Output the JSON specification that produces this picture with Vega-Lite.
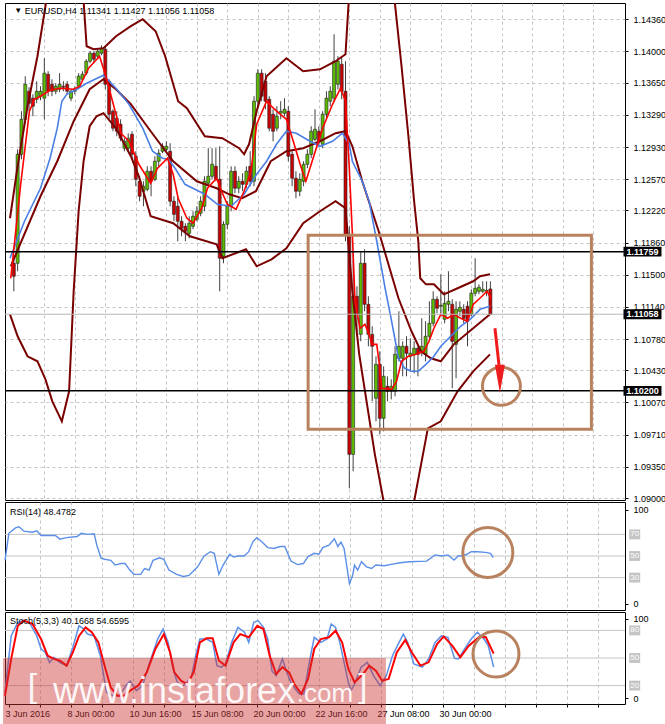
{
"$schema":"https://vega.github.io/schema/vega-lite/v6.json",
"background":"white",
"padding":{"left":0,"top":2,"right":0,"bottom":0},
"bounds":"flush",
"spacing":2,
"config":{"font":"Liberation Sans","view":{"stroke":"#000","strokeWidth":1},
"axis":{"labelFont":"Liberation Sans","labelFontSize":9,"labelColor":"#000","tickColor":"#000","tickSize":3,"domain":false,"gridColor":"#c4c4c4","gridDash":[3,3],"labelOverlap":false,"labelFlush":false,"labelBound":false},
"text":{"font":"Liberation Sans"}},
"datasets":{
"candles":[
{"i":0,"o":1.11629,"h":1.11707,"l":1.11315,"c":1.11483},
{"i":1,"o":1.11629,"h":1.12905,"l":1.11539,"c":1.12849},
{"i":2,"o":1.12849,"h":1.13331,"l":1.12793,"c":1.13241},
{"i":3,"o":1.13241,"h":1.13723,"l":1.13197,"c":1.13633},
{"i":4,"o":1.13555,"h":1.136,"l":1.13331,"c":1.13421},
{"i":5,"o":1.13477,"h":1.13521,"l":1.13275,"c":1.13387},
{"i":6,"o":1.13465,"h":1.13667,"l":1.13421,"c":1.13555},
{"i":7,"o":1.13499,"h":1.13611,"l":1.13454,"c":1.13555},
{"i":8,"o":1.13477,"h":1.13925,"l":1.13241,"c":1.13757},
{"i":9,"o":1.13745,"h":1.13779,"l":1.13499,"c":1.13555},
{"i":10,"o":1.13633,"h":1.13689,"l":1.13499,"c":1.13555},
{"i":11,"o":1.13555,"h":1.13645,"l":1.13521,"c":1.13611},
{"i":12,"o":1.13577,"h":1.13757,"l":1.13544,"c":1.13633},
{"i":13,"o":1.13611,"h":1.13667,"l":1.13555,"c":1.136},
{"i":14,"o":1.13633,"h":1.13667,"l":1.13521,"c":1.13555},
{"i":15,"o":1.13477,"h":1.13577,"l":1.13443,"c":1.13555},
{"i":16,"o":1.13555,"h":1.13611,"l":1.13521,"c":1.13577},
{"i":17,"o":1.13611,"h":1.13757,"l":1.13577,"c":1.13723},
{"i":18,"o":1.13689,"h":1.13779,"l":1.13667,"c":1.13745},
{"i":19,"o":1.13757,"h":1.13913,"l":1.13734,"c":1.13891},
{"i":20,"o":1.13891,"h":1.14003,"l":1.13869,"c":1.13981},
{"i":21,"o":1.13981,"h":1.14003,"l":1.13869,"c":1.13913},
{"i":22,"o":1.13947,"h":1.14025,"l":1.13913,"c":1.14003},
{"i":23,"o":1.13981,"h":1.1407,"l":1.13958,"c":1.14037},
{"i":24,"o":1.14025,"h":1.14059,"l":1.13577,"c":1.13633},
{"i":25,"o":1.13667,"h":1.13689,"l":1.13241,"c":1.13297},
{"i":26,"o":1.13331,"h":1.13353,"l":1.13107,"c":1.13141},
{"i":27,"o":1.13253,"h":1.13331,"l":1.13051,"c":1.13107},
{"i":28,"o":1.13185,"h":1.13241,"l":1.12995,"c":1.13029},
{"i":29,"o":1.12917,"h":1.13029,"l":1.12883,"c":1.12995},
{"i":30,"o":1.12917,"h":1.13085,"l":1.12883,"c":1.13029},
{"i":31,"o":1.13073,"h":1.13107,"l":1.12793,"c":1.12849},
{"i":32,"o":1.12827,"h":1.12883,"l":1.12491,"c":1.12569},
{"i":33,"o":1.12547,"h":1.12603,"l":1.12323,"c":1.12379},
{"i":34,"o":1.12435,"h":1.12547,"l":1.12267,"c":1.12491},
{"i":35,"o":1.12457,"h":1.12715,"l":1.12435,"c":1.12659},
{"i":36,"o":1.12659,"h":1.12715,"l":1.12379,"c":1.12547},
{"i":37,"o":1.12569,"h":1.12827,"l":1.12547,"c":1.12771},
{"i":38,"o":1.12771,"h":1.12905,"l":1.12715,"c":1.12861},
{"i":39,"o":1.12883,"h":1.12973,"l":1.12861,"c":1.12939},
{"i":40,"o":1.12905,"h":1.12995,"l":1.12883,"c":1.12939},
{"i":41,"o":1.12883,"h":1.12973,"l":1.12267,"c":1.12323},
{"i":42,"o":1.12323,"h":1.12379,"l":1.12099,"c":1.12177},
{"i":43,"o":1.12267,"h":1.12379,"l":1.11875,"c":1.12099},
{"i":44,"o":1.12099,"h":1.12155,"l":1.11931,"c":1.12021},
{"i":45,"o":1.12043,"h":1.12077,"l":1.11875,"c":1.11987},
{"i":46,"o":1.11965,"h":1.12155,"l":1.11909,"c":1.12077},
{"i":47,"o":1.12043,"h":1.12211,"l":1.12009,"c":1.12155},
{"i":48,"o":1.12121,"h":1.12267,"l":1.12099,"c":1.12211},
{"i":49,"o":1.12189,"h":1.12379,"l":1.12155,"c":1.12323},
{"i":50,"o":1.12267,"h":1.12603,"l":1.12211,"c":1.12547},
{"i":51,"o":1.12525,"h":1.12917,"l":1.12491,"c":1.12603},
{"i":52,"o":1.12603,"h":1.12917,"l":1.12569,"c":1.12737},
{"i":53,"o":1.12715,"h":1.12917,"l":1.12547,"c":1.12569},
{"i":54,"o":1.12569,"h":1.12939,"l":1.11315,"c":1.11685},
{"i":55,"o":1.11707,"h":1.12099,"l":1.11629,"c":1.12065},
{"i":56,"o":1.12065,"h":1.12323,"l":1.12009,"c":1.12267},
{"i":57,"o":1.12267,"h":1.12715,"l":1.12211,"c":1.12659},
{"i":58,"o":1.12659,"h":1.12715,"l":1.12413,"c":1.12469},
{"i":59,"o":1.12469,"h":1.12603,"l":1.12413,"c":1.12547},
{"i":60,"o":1.12547,"h":1.12637,"l":1.12435,"c":1.12513},
{"i":61,"o":1.12513,"h":1.12715,"l":1.12469,"c":1.12659},
{"i":62,"o":1.12715,"h":1.12883,"l":1.12491,"c":1.12547},
{"i":63,"o":1.12547,"h":1.13499,"l":1.12491,"c":1.13443},
{"i":64,"o":1.13443,"h":1.13801,"l":1.13387,"c":1.13757},
{"i":65,"o":1.13757,"h":1.13801,"l":1.13443,"c":1.13499},
{"i":66,"o":1.13667,"h":1.13757,"l":1.13353,"c":1.13443},
{"i":67,"o":1.13465,"h":1.13499,"l":1.13107,"c":1.13141},
{"i":68,"o":1.13297,"h":1.13353,"l":1.12995,"c":1.13107},
{"i":69,"o":1.13141,"h":1.13387,"l":1.13107,"c":1.13275},
{"i":70,"o":1.13309,"h":1.13443,"l":1.13241,"c":1.13331},
{"i":71,"o":1.13309,"h":1.13477,"l":1.13275,"c":1.13353},
{"i":72,"o":1.13331,"h":1.13387,"l":1.12771,"c":1.12827},
{"i":73,"o":1.12849,"h":1.12883,"l":1.12491,"c":1.12581},
{"i":74,"o":1.12581,"h":1.12659,"l":1.12357,"c":1.12435},
{"i":75,"o":1.12435,"h":1.12637,"l":1.12379,"c":1.12569},
{"i":76,"o":1.12547,"h":1.12771,"l":1.12491,"c":1.12737},
{"i":77,"o":1.12737,"h":1.12905,"l":1.12693,"c":1.12849},
{"i":78,"o":1.12849,"h":1.13163,"l":1.12805,"c":1.13107},
{"i":79,"o":1.13017,"h":1.13353,"l":1.12995,"c":1.13129},
{"i":80,"o":1.13107,"h":1.13163,"l":1.12939,"c":1.12995},
{"i":81,"o":1.12961,"h":1.13331,"l":1.12917,"c":1.13297},
{"i":82,"o":1.13297,"h":1.13555,"l":1.13253,"c":1.13477},
{"i":83,"o":1.13443,"h":1.13611,"l":1.13387,"c":1.13555},
{"i":84,"o":1.13477,"h":1.14193,"l":1.13443,"c":1.13891},
{"i":85,"o":1.13633,"h":1.13947,"l":1.13577,"c":1.13891},
{"i":86,"o":1.13857,"h":1.13947,"l":1.13465,"c":1.13555},
{"i":87,"o":1.13555,"h":1.13891,"l":1.11875,"c":1.11953},
{"i":88,"o":1.11953,"h":1.12043,"l":1.09109,"c":1.09489},
{"i":89,"o":1.09489,"h":1.11763,"l":1.09299,"c":1.11259},
{"i":90,"o":1.11259,"h":1.11371,"l":1.10867,"c":1.11057},
{"i":91,"o":1.10833,"h":1.11763,"l":1.10755,"c":1.11629},
{"i":92,"o":1.11629,"h":1.11785,"l":1.11091,"c":1.11169},
{"i":93,"o":1.11169,"h":1.11259,"l":1.10699,"c":1.10833},
{"i":94,"o":1.10833,"h":1.10923,"l":1.10083,"c":1.10699},
{"i":95,"o":1.10117,"h":1.10587,"l":1.09859,"c":1.10497},
{"i":96,"o":1.10497,"h":1.10643,"l":1.09713,"c":1.09893},
{"i":97,"o":1.09893,"h":1.10475,"l":1.09747,"c":1.10363},
{"i":98,"o":1.10251,"h":1.10363,"l":1.10083,"c":1.10195},
{"i":99,"o":1.10195,"h":1.10329,"l":1.10105,"c":1.10251},
{"i":100,"o":1.10195,"h":1.10699,"l":1.10139,"c":1.10609},
{"i":101,"o":1.10565,"h":1.11091,"l":1.10531,"c":1.10699},
{"i":102,"o":1.10565,"h":1.10755,"l":1.10363,"c":1.10699},
{"i":103,"o":1.10699,"h":1.10811,"l":1.10363,"c":1.10621},
{"i":104,"o":1.10587,"h":1.10789,"l":1.10419,"c":1.10621},
{"i":105,"o":1.10609,"h":1.10755,"l":1.10397,"c":1.10677},
{"i":106,"o":1.10677,"h":1.10699,"l":1.10363,"c":1.10609},
{"i":107,"o":1.10643,"h":1.11013,"l":1.10587,"c":1.10699},
{"i":108,"o":1.10609,"h":1.10979,"l":1.10531,"c":1.10811},
{"i":109,"o":1.10811,"h":1.11203,"l":1.10755,"c":1.10957},
{"i":110,"o":1.10957,"h":1.11315,"l":1.10923,"c":1.11225},
{"i":111,"o":1.11225,"h":1.11259,"l":1.11069,"c":1.11125},
{"i":112,"o":1.11147,"h":1.11505,"l":1.11069,"c":1.11158},
{"i":113,"o":1.11001,"h":1.11315,"l":1.10957,"c":1.11181},
{"i":114,"o":1.11169,"h":1.11539,"l":1.11091,"c":1.11203},
{"i":115,"o":1.11169,"h":1.11225,"l":1.10229,"c":1.10755},
{"i":116,"o":1.10721,"h":1.11203,"l":1.10341,"c":1.11113},
{"i":117,"o":1.11091,"h":1.11203,"l":1.11035,"c":1.11136},
{"i":118,"o":1.11113,"h":1.11169,"l":1.10957,"c":1.11013},
{"i":119,"o":1.11147,"h":1.11203,"l":1.10699,"c":1.10979},
{"i":120,"o":1.11057,"h":1.11337,"l":1.11035,"c":1.11293},
{"i":121,"o":1.11293,"h":1.11685,"l":1.11259,"c":1.11349},
{"i":122,"o":1.11315,"h":1.11393,"l":1.11281,"c":1.1136},
{"i":123,"o":1.11315,"h":1.11427,"l":1.11293,"c":1.11337},
{"i":124,"o":1.11315,"h":1.11427,"l":1.11259,"c":1.11326},
{"i":125,"o":1.11341,"h":1.11427,"l":1.11056,"c":1.11058}
],
"red":[{"i":-0.8,"v":1.11461},{"i":1.8,"v":1.12513},{"i":4.1,"v":1.13331},{"i":5.4,"v":1.13465},{"i":7,"v":1.13499},{"i":9.5,"v":1.13566},{"i":12.1,"v":1.13589},{"i":15.7,"v":1.13577},{"i":17.3,"v":1.13611},{"i":19.6,"v":1.13813},{"i":22.5,"v":1.13947},{"i":24.3,"v":1.13701},{"i":26.1,"v":1.13409},{"i":28.1,"v":1.13085},{"i":30.2,"v":1.12995},{"i":32.8,"v":1.12737},{"i":35.9,"v":1.12525},{"i":37.7,"v":1.12693},{"i":40.3,"v":1.12805},{"i":41.8,"v":1.12625},{"i":43.1,"v":1.12357},{"i":45.4,"v":1.12133},{"i":47,"v":1.12077},{"i":49.3,"v":1.12245},{"i":50.8,"v":1.12469},{"i":53.2,"v":1.12581},{"i":54.5,"v":1.12435},{"i":56,"v":1.12289},{"i":58.3,"v":1.12233},{"i":60.4,"v":1.12435},{"i":62.2,"v":1.12659},{"i":63.7,"v":1.13185},{"i":66.3,"v":1.13443},{"i":68.1,"v":1.13365},{"i":69.9,"v":1.13297},{"i":71.5,"v":1.13241},{"i":73.3,"v":1.12995},{"i":75.1,"v":1.12737},{"i":76.6,"v":1.12547},{"i":78.5,"v":1.12805},{"i":81,"v":1.13141},{"i":83.6,"v":1.13409},{"i":85.7,"v":1.13589},{"i":87,"v":1.13443},{"i":88,"v":1.12693},{"i":88.8,"v":1.11953},{"i":89.5,"v":1.11203},{"i":90.8,"v":1.10901},{"i":92.1,"v":1.10945},{"i":93.2,"v":1.10833},{"i":93.9,"v":1.10721},{"i":95.2,"v":1.10721},{"i":96,"v":1.10453},{"i":96.5,"v":1.10229},{"i":99.1,"v":1.10217},{"i":100.4,"v":1.10307},{"i":101.7,"v":1.10531},{"i":103.5,"v":1.10587},{"i":105.5,"v":1.10609},{"i":107.6,"v":1.10643},{"i":108.9,"v":1.10755},{"i":110.2,"v":1.10901},{"i":112,"v":1.11057},{"i":113.8,"v":1.11013},{"i":115.4,"v":1.11057},{"i":117.2,"v":1.11013},{"i":119,"v":1.10979},{"i":120.5,"v":1.11169},{"i":122.8,"v":1.11259},{"i":124.1,"v":1.11315},{"i":125.2,"v":1.11237}],
"blue":[{"i":-1,"v":1.11685},{"i":2.8,"v":1.12099},{"i":7,"v":1.12469},{"i":9.5,"v":1.12805},{"i":11.4,"v":1.13141},{"i":12.6,"v":1.13443},{"i":13.9,"v":1.13521},{"i":16.5,"v":1.13577},{"i":19.1,"v":1.13645},{"i":23.5,"v":1.13734},{"i":26.8,"v":1.13589},{"i":30.2,"v":1.13409},{"i":33.8,"v":1.13141},{"i":36.4,"v":1.12883},{"i":39,"v":1.12805},{"i":40.5,"v":1.12793},{"i":42.3,"v":1.12693},{"i":44.9,"v":1.12513},{"i":47.5,"v":1.12457},{"i":50.1,"v":1.12401},{"i":53.4,"v":1.12289},{"i":57,"v":1.12267},{"i":60.4,"v":1.12401},{"i":63.7,"v":1.12625},{"i":66.3,"v":1.12771},{"i":68.9,"v":1.12961},{"i":71.5,"v":1.13107},{"i":74.1,"v":1.13085},{"i":77.7,"v":1.12995},{"i":80.3,"v":1.12939},{"i":83.6,"v":1.12995},{"i":86.2,"v":1.13085},{"i":88,"v":1.12961},{"i":88.8,"v":1.12771},{"i":91.4,"v":1.12547},{"i":93.2,"v":1.12323},{"i":95.2,"v":1.11875},{"i":97.3,"v":1.11371},{"i":99.1,"v":1.10979},{"i":100.9,"v":1.10565},{"i":102.5,"v":1.10453},{"i":104.3,"v":1.10419},{"i":106.1,"v":1.10419},{"i":108.1,"v":1.10497},{"i":110.2,"v":1.10587},{"i":112,"v":1.10699},{"i":114.6,"v":1.10811},{"i":117.2,"v":1.10923},{"i":119.7,"v":1.11001},{"i":122.3,"v":1.11113},{"i":124.9,"v":1.11147}],
"bbu":[{"i":-1,"v":1.12133},{"i":1,"v":1.12715},{"i":3.6,"v":1.13387},{"i":6.2,"v":1.13947},{"i":8.3,"v":1.14507},{"i":10.1,"v":1.15123},{"i":12.6,"v":1.15907},{"i":15.2,"v":1.15683},{"i":17.3,"v":1.15011},{"i":18.3,"v":1.14563},{"i":19.1,"v":1.14059},{"i":20.9,"v":1.14025},{"i":23.5,"v":1.14037},{"i":26.8,"v":1.14171},{"i":30.7,"v":1.14283},{"i":33.8,"v":1.14361},{"i":37.2,"v":1.14227},{"i":39.7,"v":1.13947},{"i":43.1,"v":1.13443},{"i":45.4,"v":1.13365},{"i":50.1,"v":1.13051},{"i":54.7,"v":1.13029},{"i":59.1,"v":1.12917},{"i":60.4,"v":1.12849},{"i":61.7,"v":1.12961},{"i":63.7,"v":1.13331},{"i":66.3,"v":1.13723},{"i":71.5,"v":1.13925},{"i":75.9,"v":1.13779},{"i":80.3,"v":1.13801},{"i":84.4,"v":1.13891},{"i":87,"v":1.13969},{"i":88,"v":1.14675},{"i":89.3,"v":1.15459},{"i":91.4,"v":1.16019},{"i":95.2,"v":1.15907},{"i":97.8,"v":1.15235},{"i":99.9,"v":1.14563},{"i":101.7,"v":1.13835},{"i":103.5,"v":1.13051},{"i":105,"v":1.12323},{"i":106.1,"v":1.11875},{"i":106.6,"v":1.11461},{"i":108.1,"v":1.11393},{"i":110.2,"v":1.11393},{"i":112.8,"v":1.11281},{"i":116.4,"v":1.11349},{"i":120.5,"v":1.11427},{"i":122.3,"v":1.11483},{"i":124.9,"v":1.11505}],
"bbm":[{"i":-0.8,"v":1.11595},{"i":7,"v":1.12379},{"i":11.4,"v":1.12771},{"i":15.7,"v":1.13219},{"i":19.9,"v":1.13577},{"i":23.5,"v":1.13689},{"i":26.8,"v":1.13577},{"i":30.7,"v":1.13409},{"i":35.9,"v":1.13107},{"i":41.8,"v":1.12771},{"i":48,"v":1.12547},{"i":53.2,"v":1.12469},{"i":56.5,"v":1.12401},{"i":59.9,"v":1.12357},{"i":63.5,"v":1.12435},{"i":67.4,"v":1.12771},{"i":71.5,"v":1.12883},{"i":75.9,"v":1.12917},{"i":80.3,"v":1.12995},{"i":84.4,"v":1.13085},{"i":87,"v":1.13107},{"i":88.8,"v":1.12939},{"i":91.4,"v":1.12547},{"i":95.7,"v":1.11987},{"i":100.9,"v":1.11237},{"i":104.3,"v":1.10867},{"i":106.8,"v":1.10643},{"i":109.4,"v":1.10565},{"i":112,"v":1.10531},{"i":115.4,"v":1.10721},{"i":120.5,"v":1.10901},{"i":124.9,"v":1.11057}],
"bbl":[{"i":-1,"v":1.11057},{"i":1,"v":1.10811},{"i":3.6,"v":1.10587},{"i":6.2,"v":1.10531},{"i":8.3,"v":1.10329},{"i":10.1,"v":1.10083},{"i":12.6,"v":1.09859},{"i":14.5,"v":1.10195},{"i":15.7,"v":1.11315},{"i":17,"v":1.12211},{"i":18.3,"v":1.12771},{"i":19.9,"v":1.13163},{"i":21.7,"v":1.13275},{"i":23.5,"v":1.13309},{"i":26.8,"v":1.13141},{"i":30.7,"v":1.12827},{"i":32.8,"v":1.12603},{"i":35.9,"v":1.12155},{"i":41.8,"v":1.12077},{"i":46.2,"v":1.11931},{"i":53.2,"v":1.11841},{"i":54.7,"v":1.11685},{"i":60.9,"v":1.11785},{"i":63.7,"v":1.11595},{"i":67.6,"v":1.11673},{"i":71.5,"v":1.11797},{"i":75.9,"v":1.12077},{"i":80.3,"v":1.12211},{"i":84.4,"v":1.12323},{"i":87,"v":1.12245},{"i":88.8,"v":1.11315},{"i":90.6,"v":1.10609},{"i":94.7,"v":1.09489},{"i":97,"v":1.08963},{"i":100.4,"v":1.08291},{"i":103,"v":1.08291},{"i":105,"v":1.08963},{"i":108.6,"v":1.09781},{"i":112,"v":1.09859},{"i":116.4,"v":1.10195},{"i":120.5,"v":1.10419},{"i":124.9,"v":1.10609}],
"rsi":[{"i":-1,"v":46},{"i":0,"v":71},{"i":1.7,"v":76},{"i":2.6,"v":77},{"i":3.9,"v":73},{"i":6,"v":72},{"i":7.2,"v":73.4},{"i":8.3,"v":69},{"i":12,"v":69},{"i":13.2,"v":65.6},{"i":14.8,"v":67},{"i":17.6,"v":68},{"i":18.7,"v":71},{"i":20.3,"v":70},{"i":22,"v":70.6},{"i":22.7,"v":60},{"i":23.8,"v":48},{"i":24.7,"v":47},{"i":26.3,"v":46},{"i":27.4,"v":41.6},{"i":29,"v":43},{"i":30,"v":43},{"i":31.2,"v":37},{"i":32.3,"v":33},{"i":34,"v":33},{"i":35,"v":38.4},{"i":36.2,"v":37},{"i":37.2,"v":46},{"i":38.9,"v":48.4},{"i":40,"v":47},{"i":41.3,"v":37},{"i":43.3,"v":33},{"i":45,"v":31},{"i":46.5,"v":32},{"i":48.7,"v":40},{"i":50.4,"v":50},{"i":52,"v":54},{"i":53,"v":52.5},{"i":54.2,"v":33},{"i":55.3,"v":41.6},{"i":57,"v":51.6},{"i":58,"v":49},{"i":59.1,"v":50},{"i":60.7,"v":50},{"i":61.9,"v":54},{"i":63,"v":63.4},{"i":64,"v":67},{"i":65.2,"v":63.4},{"i":66.8,"v":57.8},{"i":68.4,"v":57},{"i":70,"v":58.8},{"i":71.2,"v":58.8},{"i":72.8,"v":45.3},{"i":74.5,"v":42},{"i":76,"v":43},{"i":77.2,"v":49.4},{"i":78.8,"v":52.5},{"i":80,"v":51.6},{"i":81,"v":57.8},{"i":82.6,"v":60},{"i":84,"v":66},{"i":84.9,"v":58.8},{"i":85.7,"v":62.8},{"i":86.5,"v":57},{"i":87.3,"v":38.4},{"i":87.9,"v":24.4},{"i":88.7,"v":32},{"i":89.2,"v":41.6},{"i":90,"v":37},{"i":91,"v":44.7},{"i":92.3,"v":40},{"i":93.6,"v":38.4},{"i":94.7,"v":41.6},{"i":96.8,"v":41},{"i":99,"v":42.5},{"i":101,"v":43.7},{"i":103.4,"v":44.7},{"i":107.8,"v":45.3},{"i":110,"v":51},{"i":111.6,"v":50},{"i":113.3,"v":51},{"i":114.9,"v":46.2},{"i":116,"v":50.3},{"i":117,"v":50},{"i":118.2,"v":51.6},{"i":119.3,"v":54},{"i":120.9,"v":54},{"i":123,"v":53.4},{"i":124.3,"v":52.5},{"i":125,"v":48.5}],
"stk":[{"i":-1,"v":12.7},{"i":0.6,"v":74},{"i":2.3,"v":88.8},{"i":3.9,"v":90.6},{"i":5.5,"v":87},{"i":7.2,"v":74},{"i":8.3,"v":60},{"i":9.4,"v":56},{"i":10.5,"v":45},{"i":11.6,"v":50.7},{"i":13.2,"v":45},{"i":14.9,"v":41.7},{"i":16.5,"v":61.6},{"i":18.1,"v":85},{"i":19.2,"v":82},{"i":20.3,"v":76},{"i":22,"v":74},{"i":23.6,"v":52.5},{"i":25.2,"v":12.7},{"i":26.9,"v":9},{"i":28.5,"v":9},{"i":30.2,"v":20},{"i":31.3,"v":25},{"i":32.9,"v":14.5},{"i":34.5,"v":20},{"i":36.2,"v":43.5},{"i":38.4,"v":70.6},{"i":39.8,"v":81.5},{"i":41.1,"v":67},{"i":42.2,"v":41.7},{"i":43.3,"v":25.4},{"i":44.4,"v":18},{"i":45.5,"v":21.7},{"i":47.1,"v":29},{"i":48.2,"v":52.5},{"i":49.3,"v":70.6},{"i":51,"v":70.6},{"i":52.6,"v":67},{"i":53.7,"v":41.7},{"i":54.8,"v":40},{"i":55.9,"v":43.5},{"i":57.5,"v":67},{"i":59.1,"v":83.3},{"i":60.8,"v":78},{"i":61.9,"v":67},{"i":63.2,"v":88.8},{"i":64.3,"v":90.6},{"i":65.7,"v":83.3},{"i":66.8,"v":70.6},{"i":67.9,"v":36},{"i":69,"v":30.8},{"i":70.6,"v":49},{"i":71.7,"v":34.4},{"i":72.8,"v":23.6},{"i":73.9,"v":16.3},{"i":75,"v":11},{"i":76.1,"v":11},{"i":77.7,"v":49},{"i":78.8,"v":72.5},{"i":80.5,"v":67},{"i":82.1,"v":70.6},{"i":83.2,"v":87},{"i":84.3,"v":83.3},{"i":85.4,"v":67},{"i":86.5,"v":45.3},{"i":87.6,"v":23.6},{"i":88.3,"v":14.5},{"i":89.2,"v":21.7},{"i":90.9,"v":40},{"i":92.5,"v":45.3},{"i":94.1,"v":30.8},{"i":95.8,"v":20},{"i":97.4,"v":30.8},{"i":99,"v":52.5},{"i":100.7,"v":67},{"i":101.8,"v":76},{"i":102.9,"v":67},{"i":104.5,"v":43.5},{"i":106.7,"v":40},{"i":108.3,"v":49},{"i":110,"v":67},{"i":111.6,"v":74},{"i":113.3,"v":72.5},{"i":115,"v":49.6},{"i":116,"v":49},{"i":117.6,"v":60},{"i":119.3,"v":70.6},{"i":120.9,"v":78},{"i":122.6,"v":70.6},{"i":123.7,"v":63.4},{"i":125.1,"v":40.2}],
"std":[{"i":-1,"v":9},{"i":0.6,"v":49},{"i":2.3,"v":85},{"i":3.9,"v":90.6},{"i":6.1,"v":87},{"i":8.3,"v":70.6},{"i":10,"v":52.5},{"i":11.6,"v":49},{"i":13.2,"v":47},{"i":14.9,"v":41.7},{"i":16.5,"v":56},{"i":18.1,"v":74},{"i":19.8,"v":83.3},{"i":21.4,"v":78},{"i":23.1,"v":67},{"i":24.7,"v":41.7},{"i":26.3,"v":18},{"i":28,"v":9},{"i":29.6,"v":9},{"i":31.3,"v":14.5},{"i":33.4,"v":20},{"i":35.6,"v":34.4},{"i":37.8,"v":59.8},{"i":40,"v":76},{"i":41.6,"v":56},{"i":42.7,"v":34.4},{"i":44.4,"v":25.4},{"i":46,"v":21.7},{"i":47.7,"v":34.4},{"i":49.3,"v":67},{"i":51,"v":71.4},{"i":52.6,"v":71.4},{"i":54.2,"v":47},{"i":55.9,"v":41.7},{"i":58,"v":67},{"i":59.7,"v":76},{"i":61.9,"v":72.5},{"i":64.1,"v":85},{"i":65.7,"v":81.5},{"i":67.3,"v":52.5},{"i":69,"v":32.6},{"i":70.6,"v":40},{"i":72.3,"v":34.4},{"i":73.9,"v":20},{"i":75.5,"v":11},{"i":77.2,"v":27.2},{"i":78.8,"v":59.8},{"i":80.5,"v":70.6},{"i":82.6,"v":72.5},{"i":84.3,"v":79.7},{"i":86,"v":67},{"i":87.6,"v":38},{"i":89.2,"v":23.6},{"i":91.4,"v":32.6},{"i":93,"v":41.7},{"i":94.7,"v":36.2},{"i":96.3,"v":25.4},{"i":98,"v":27.2},{"i":100.1,"v":56},{"i":102.3,"v":69.6},{"i":104,"v":56},{"i":106.2,"v":41.7},{"i":108.3,"v":45.3},{"i":110.5,"v":65.2},{"i":112.2,"v":73.5},{"i":114.4,"v":63.4},{"i":116.5,"v":50.7},{"i":118.7,"v":63.4},{"i":121.5,"v":73.2},{"i":123.1,"v":72.5},{"i":125.1,"v":54.7}]
},
"vconcat":[
{"width":620,"height":497,"layer":[
{"data":{"name":"candles"},"mark":{"type":"rule","color":"#404040","strokeWidth":1},
"encoding":{"x":{"field":"i","type":"quantitative","title":null,"scale":{"domain":[-1,159],"nice":false,"zero":false},"axis":{"values":[8,16,24,32,40,48,56,64,72,80,88,96,104,112,120,128,136,144,152],"tickCount":40,"labels":false,"ticks":false,"grid":true}},
"y":{"field":"l","type":"quantitative","title":null,"scale":{"domain":[1.08978,1.14543],"nice":false,"zero":false},"axis":{"orient":"right","values":[1.09,1.0935,1.0971,1.1007,1.1043,1.1078,1.1114,1.115,1.1186,1.1222,1.1257,1.1293,1.1329,1.1365,1.14,1.1436],"tickCount":40,"format":".5f","grid":true,"labelPadding":5,"labelOverlap":false,"labelFlush":false,"labelBound":false}},
"y2":{"field":"h"}}},
{"data":{"name":"candles"},"mark":{"type":"bar","size":3,"stroke":"#202020","strokeWidth":0.6},
"encoding":{"x":{"field":"i","type":"quantitative","title":null},"y":{"field":"o","type":"quantitative","title":null},"y2":{"field":"c"},
"color":{"condition":{"test":"datum.c >= datum.o","value":"#5cbc00"},"value":"#cc0000"}}},
{"data":{"name":"bbu"},"mark":{"type":"line","color":"#7a0000","strokeWidth":2,"clip":true},"encoding":{"x":{"field":"i","type":"quantitative","title":null},"y":{"field":"v","type":"quantitative","title":null}}},
{"data":{"name":"bbm"},"mark":{"type":"line","color":"#7a0000","strokeWidth":2,"clip":true},"encoding":{"x":{"field":"i","type":"quantitative","title":null},"y":{"field":"v","type":"quantitative","title":null}}},
{"data":{"name":"bbl"},"mark":{"type":"line","color":"#7a0000","strokeWidth":2,"clip":true},"encoding":{"x":{"field":"i","type":"quantitative","title":null},"y":{"field":"v","type":"quantitative","title":null}}},
{"data":{"name":"blue"},"mark":{"type":"line","color":"#4a7fe6","strokeWidth":1.6,"clip":true},"encoding":{"x":{"field":"i","type":"quantitative","title":null},"y":{"field":"v","type":"quantitative","title":null}}},
{"data":{"name":"red"},"mark":{"type":"line","color":"#ff0000","strokeWidth":1.6,"clip":true},"encoding":{"x":{"field":"i","type":"quantitative","title":null},"y":{"field":"v","type":"quantitative","title":null}}},
{"data":{"values":[{"p":1.11058}]},"mark":{"type":"rule","color":"#b8b8b8","strokeWidth":1},"encoding":{"y":{"field":"p","type":"quantitative","title":null}}},
{"data":{"values":[{"p":1.11759},{"p":1.102}]},"mark":{"type":"rule","color":"#000","strokeWidth":1.5},"encoding":{"y":{"field":"p","type":"quantitative","title":null}}},
{"data":{"values":[{"i1":77.2,"i2":151.5,"p1":1.11942,"p2":1.09769}]},"mark":{"type":"rect","filled":false,"color":"#b9825e","strokeWidth":3},
"encoding":{"x":{"field":"i1","type":"quantitative","title":null},"x2":{"field":"i2"},"y":{"field":"p1","type":"quantitative","title":null},"y2":{"field":"p2"}}},
{"data":{"values":[{"i":127.9,"p":1.10251}]},"mark":{"type":"point","shape":"circle","filled":false,"color":"#b9825e","strokeWidth":3,"size":1444,"opacity":1},
"encoding":{"x":{"field":"i","type":"quantitative","title":null},"y":{"field":"p","type":"quantitative","title":null}}},
{"data":{"values":[{"i1":126.2,"p1":1.10901,"i2":127.3,"p2":1.10475}]},"mark":{"type":"rule","color":"#ee1c1c","strokeWidth":3},
"encoding":{"x":{"field":"i1","type":"quantitative","title":null},"x2":{"field":"i2"},"y":{"field":"p1","type":"quantitative","title":null},"y2":{"field":"p2"}}},
{"data":{"values":[{"i":127.5,"p":1.10335}]},"mark":{"type":"point","shape":"M-0.35,-1L0.35,-1L0,1Z","filled":true,"color":"#ee1c1c","size":800,"opacity":1,"strokeWidth":0},
"encoding":{"x":{"field":"i","type":"quantitative","title":null},"y":{"field":"p","type":"quantitative","title":null}}},
{"data":{"values":[{"i":164.9,"p":1.11759,"t":"1.11759"},{"i":164.9,"p":1.11058,"t":"1.11058"},{"i":164.9,"p":1.102,"t":"1.10200"}]},"layer":[
{"mark":{"type":"point","shape":"M-1,-0.26L1,-0.26L1,0.26L-1,0.26Z","filled":true,"color":"#000","size":1444,"opacity":1,"strokeWidth":0},
"encoding":{"x":{"field":"i","type":"quantitative","title":null},"y":{"field":"p","type":"quantitative","title":null}}},
{"mark":{"type":"text","color":"#fff","fontSize":9,"fontWeight":"bold","align":"center","baseline":"middle"},
"encoding":{"x":{"field":"i","type":"quantitative","title":null},"y":{"field":"p","type":"quantitative","title":null},"text":{"field":"t"}}}]},
{"data":{"values":[{"i":0.1,"p":1.14451,"t":"▼"}]},"mark":{"type":"text","color":"#000","fontSize":8,"align":"left","baseline":"middle"},
"encoding":{"x":{"field":"i","type":"quantitative","title":null},"y":{"field":"p","type":"quantitative","title":null},"text":{"field":"t"}}},
{"data":{"values":[{"i":2.87,"p":1.14451,"t":"EURUSD,H4 1.11341 1.11427 1.11056 1.11058"}]},"mark":{"type":"text","color":"#000","fontSize":9,"align":"left","baseline":"middle"},
"encoding":{"x":{"field":"i","type":"quantitative","title":null},"y":{"field":"p","type":"quantitative","title":null},"text":{"field":"t"}}}
]},
{"width":620,"height":108,"layer":[
{"data":{"values":[{"v":30},{"v":50},{"v":70}]},"mark":{"type":"rule","color":"#c4c4c4","strokeWidth":1},
"encoding":{"y":{"field":"v","type":"quantitative","title":null,"scale":{"domain":[0,100],"nice":false,"zero":false},"axis":{"orient":"right","values":[6,93],"tickCount":10,"labelExpr":"datum.value > 50 ? '100' : '0'","grid":false,"labelPadding":5,"labelOverlap":false}}}},
{"data":{"name":"rsi"},"mark":{"type":"line","color":"#5b8fe8","strokeWidth":1.4},
"encoding":{"x":{"field":"i","type":"quantitative","title":null,"scale":{"domain":[-1,159],"nice":false,"zero":false},"axis":{"values":[8,16,24,32,40,48,56,64,72,80,88,96,104,112,120,128,136,144,152],"tickCount":40,"labels":false,"ticks":false,"grid":true}},"y":{"field":"v","type":"quantitative","title":null}}},
{"data":{"values":[{"i":123.6,"v":53.3}]},"mark":{"type":"point","shape":"circle","filled":false,"color":"#b9825e","strokeWidth":3,"size":2500,"opacity":1},
"encoding":{"x":{"field":"i","type":"quantitative","title":null},"y":{"field":"v","type":"quantitative","title":null}}},
{"data":{"values":[{"i":0.29,"v":90.7,"t":"RSI(14) 48.4782"}]},"mark":{"type":"text","color":"#000","fontSize":9,"align":"left","baseline":"middle"},
"encoding":{"x":{"field":"i","type":"quantitative","title":null},"y":{"field":"v","type":"quantitative","title":null},"text":{"field":"t"}}},
{"data":{"values":[{"i":161.5,"v":30,"t":"30"},{"i":161.5,"v":50,"t":"50"},{"i":161.5,"v":70,"t":"70"}]},"layer":[
{"mark":{"type":"point","shape":"M-1,-0.9L1,-0.9L1,0.9L-1,0.9Z","filled":true,"color":"#c4c4c4","size":121,"opacity":1,"strokeWidth":0},
"encoding":{"x":{"field":"i","type":"quantitative","title":null},"y":{"field":"v","type":"quantitative","title":null}}},
{"mark":{"type":"text","color":"#fff","fontSize":8,"align":"center","baseline":"middle"},
"encoding":{"x":{"field":"i","type":"quantitative","title":null},"y":{"field":"v","type":"quantitative","title":null},"text":{"field":"t"}}}]}
]},
{"width":620,"height":92,"layer":[
{"data":{"values":[{"v":20},{"v":50},{"v":80}]},"mark":{"type":"rule","color":"#c4c4c4","strokeWidth":1},
"encoding":{"y":{"field":"v","type":"quantitative","title":null,"scale":{"domain":[0,100],"nice":false,"zero":false},"axis":{"orient":"right","values":[6.5,92.5],"tickCount":10,"labelExpr":"datum.value > 50 ? '100' : '0'","grid":false,"labelPadding":5,"labelOverlap":false}}}},
{"data":{"name":"stk"},"mark":{"type":"line","color":"#5b8fe8","strokeWidth":1.5},
"encoding":{"x":{"field":"i","type":"quantitative","title":null,"scale":{"domain":[-1,159],"nice":false,"zero":false},
"axis":{"values":[0,8,16,24,32,40,48,56,64,72,80,88,96,104,112,120,128,136,144,152],"tickCount":40,"grid":true,"gridOpacity":{"condition":{"test":"datum.value == 0","value":0},"value":1},"ticks":true,"tickSize":3,"labelPadding":2,"labelAlign":"left","labelOffset":-4,"labelOverlap":false,
"labelExpr":"(datum.value % 16 == 0 && datum.value <= 112) ? ['3 Jun 2016','8 Jun 00:00','10 Jun 16:00','15 Jun 08:00','20 Jun 00:00','22 Jun 16:00','27 Jun 08:00','30 Jun 00:00'][datum.value / 16] : ''"}},
"y":{"field":"v","type":"quantitative","title":null}}},
{"data":{"name":"std"},"mark":{"type":"line","color":"#ff0000","strokeWidth":2},
"encoding":{"x":{"field":"i","type":"quantitative","title":null},"y":{"field":"v","type":"quantitative","title":null}}},
{"data":{"values":[{"i":125.7,"v":54.3}]},"mark":{"type":"point","shape":"circle","filled":false,"color":"#b9825e","strokeWidth":3,"size":2116,"opacity":1},
"encoding":{"x":{"field":"i","type":"quantitative","title":null},"y":{"field":"v","type":"quantitative","title":null}}},
{"data":{"values":[{"i":0.29,"v":90.2,"t":"Stoch(5,3,3) 40.1668 54.6595"}]},"mark":{"type":"text","color":"#000","fontSize":9,"align":"left","baseline":"middle"},
"encoding":{"x":{"field":"i","type":"quantitative","title":null},"y":{"field":"v","type":"quantitative","title":null},"text":{"field":"t"}}},
{"data":{"values":[{"i":161.5,"v":20,"t":"20"},{"i":161.5,"v":50,"t":"50"},{"i":161.5,"v":80,"t":"80"}]},"layer":[
{"mark":{"type":"point","shape":"M-1,-0.9L1,-0.9L1,0.9L-1,0.9Z","filled":true,"color":"#c4c4c4","size":121,"opacity":1,"strokeWidth":0},
"encoding":{"x":{"field":"i","type":"quantitative","title":null},"y":{"field":"v","type":"quantitative","title":null}}},
{"mark":{"type":"text","color":"#fff","fontSize":8,"align":"center","baseline":"middle"},
"encoding":{"x":{"field":"i","type":"quantitative","title":null},"y":{"field":"v","type":"quantitative","title":null},"text":{"field":"t"}}}]},
{"data":{"values":[{"i1":-1.5,"i2":97.3,"v1":50,"v2":-22.8}]},"mark":{"type":"rect","color":"#cc3333","opacity":0.45},
"encoding":{"x":{"field":"i1","type":"quantitative","title":null},"x2":{"field":"i2"},"y":{"field":"v1","type":"quantitative","title":null},"y2":{"field":"v2"}}},
{"data":{"values":[{"i":4.9,"v":7.6,"t":"["},{"i":90.1,"v":7.6,"t":"]"}]},"mark":{"type":"text","color":"#fff","opacity":0.9,"fontSize":34,"align":"left","baseline":"alphabetic"},
"encoding":{"x":{"field":"i","type":"quantitative","title":null},"y":{"field":"v","type":"quantitative","title":null},"text":{"field":"t"}}},
{"data":{"values":[{"i":11.4,"v":1.1,"t":"www.instaforex"}]},"mark":{"type":"text","color":"#fff","opacity":0.9,"fontSize":36,"align":"left","baseline":"alphabetic"},
"encoding":{"x":{"field":"i","type":"quantitative","title":null},"y":{"field":"v","type":"quantitative","title":null},"text":{"field":"t"}}},
{"data":{"values":[{"i":74.3,"v":2.2,"t":".com"}]},"mark":{"type":"text","color":"#fff","opacity":0.9,"fontSize":26,"align":"left","baseline":"alphabetic"},
"encoding":{"x":{"field":"i","type":"quantitative","title":null},"y":{"field":"v","type":"quantitative","title":null},"text":{"field":"t"}}}
]}
]
}
